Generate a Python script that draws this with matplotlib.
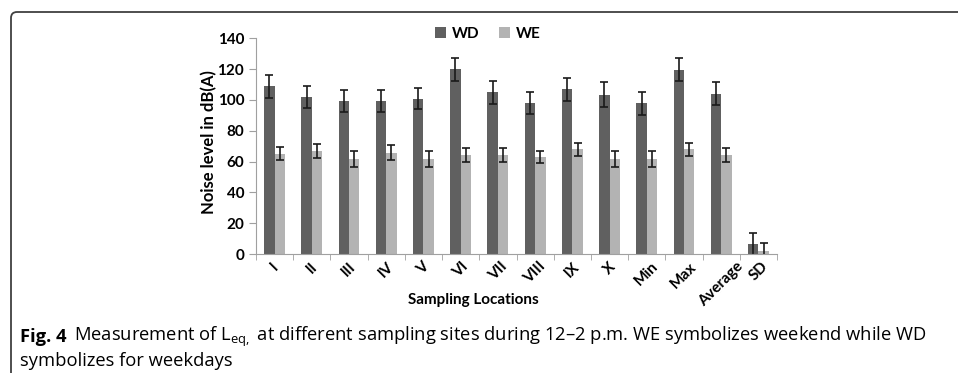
import numpy as np
import matplotlib
matplotlib.use("Agg")
import matplotlib.pyplot as plt
from matplotlib.patches import FancyBboxPatch
from matplotlib.transforms import IdentityTransform

locations = ["I", "II", "III", "IV", "V", "VI", "VII", "VIII", "IX", "X",
             "Min", "Max", "Average", "SD"]
wd = [108.8, 101.9, 99.1, 99.1, 100.9, 119.8, 104.9, 97.8, 106.9, 103.4,
      97.8, 119.6, 104.1, 6.4]
wd_err = [7.3, 7.3, 7.1, 7.1, 7.1, 7.3, 7.4, 7.1, 7.3, 8.0, 7.4, 7.5, 7.3, 7.5]
we = [65.2, 66.9, 61.7, 65.8, 61.7, 64.1, 64.1, 63.0, 68.0, 61.7,
      61.7, 68.0, 64.1, 2.2]
we_err = [4.3, 4.5, 5.0, 4.7, 5.0, 4.5, 4.5, 4.1, 4.3, 5.0, 5.0, 4.3, 4.7, 4.7]

plt.rcParams["font.family"] = ["Lato", "DejaVu Sans"]
plt.rcParams["mathtext.fontset"] = "custom"
plt.rcParams["mathtext.rm"] = "Open Sans"

fig = plt.figure(figsize=(9.58, 3.73), dpi=100)
ax = fig.add_axes([0.2672, 0.319, 0.5439, 0.5783])

x = np.arange(len(locations)) + 0.5
w = 0.28
ax.bar(x - w / 2, wd, w, color="#606060", label="WD")
ax.bar(x + w / 2, we, w, color="#b3b3b3", label="WE")
ax.errorbar(x - w / 2, wd, yerr=wd_err, fmt="none", ecolor="#1a1a1a",
            elinewidth=1.2, capsize=3, capthick=1.2)
ax.errorbar(x + w / 2, we, yerr=we_err, fmt="none", ecolor="#1a1a1a",
            elinewidth=1.2, capsize=3, capthick=1.2)

ax.set_xlim(0, len(locations))
ax.set_ylim(0, 140)
ax.set_yticks(range(0, 141, 20))
ax.set_xticks(x)
ax.set_xticklabels(locations, rotation=45, fontweight="bold", fontsize=11)
ax.set_xticks(np.arange(len(locations) + 1), minor=True)
ax.tick_params(axis="x", which="major", length=0, pad=4)
ax.tick_params(axis="x", which="minor", length=4, color="#a0a0a0")
ax.tick_params(axis="y", length=5, color="#a0a0a0", labelsize=11)
for lab in ax.get_yticklabels():
    lab.set_fontweight("bold")

for s in ["top", "right"]:
    ax.spines[s].set_visible(False)
for s in ["left", "bottom"]:
    ax.spines[s].set_color("#a0a0a0")

ax.set_ylabel("Noise level in dB(A)", fontweight="bold", fontsize=12)
ax.yaxis.set_label_coords(-0.074, 0.52)
ax.set_xlabel("Sampling Locations", fontweight="bold", fontsize=11)
ax.xaxis.set_label_coords(0.418, -0.18)

ax.legend(loc="center", bbox_to_anchor=(0.445, 1.02), ncol=2, frameon=False,
          prop={"weight": "bold", "size": 11}, handlelength=0.7,
          handleheight=0.7, handletextpad=0.4, columnspacing=1.3)

# frame with rounded corner
frame = FancyBboxPatch((11, -20), 1000, 381, boxstyle="round,pad=0,rounding_size=6",
                       transform=IdentityTransform(), fill=False,
                       edgecolor="#404040", lw=1.3)
fig.patches.append(frame)

# caption, sized so the first line ends near x=925 px like the reference
cap_font = ["Open Sans", "DejaVu Sans"]
size = 12.0
line1 = (r"Measurement of L$_\mathregular{eq,}$ at different sampling sites "
         "during 12–2 p.m. WE symbolizes weekend while WD")
renderer = fig.canvas.get_renderer()
for _ in range(3):
    t1 = fig.text(20 / 958, 1 - 337 / 373, "Fig. 4", fontweight="bold",
                  fontsize=size, family=cap_font, va="center")
    bb = t1.get_window_extent(renderer)
    t2 = fig.text((bb.x1 + 7) / 958, 1 - 337 / 373, line1,
                  fontsize=size, family=cap_font, va="center")
    end = t2.get_window_extent(renderer).x1
    t1.remove()
    t2.remove()
    size = size * (925 - 20) / (end - 20)

t1 = fig.text(20 / 958, 1 - 337 / 373, "Fig. 4", fontweight="bold",
              fontsize=size, family=cap_font, va="center")
bb = t1.get_window_extent(renderer)
fig.text((bb.x1 + 7) / 958, 1 - 337 / 373, line1,
         fontsize=size, family=cap_font, va="center")
fig.text(20 / 958, 1 - 361 / 373, "symbolizes for weekdays",
         fontsize=size, family=cap_font, va="center")

fig.savefig("out.png", dpi=100)
